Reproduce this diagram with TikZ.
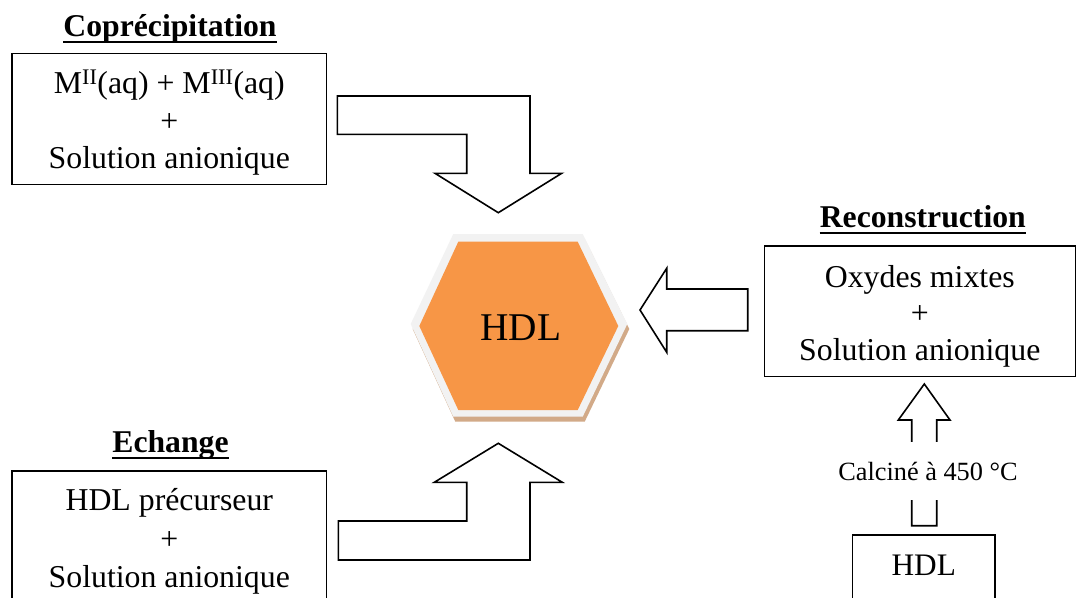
\documentclass[tikz,border=0pt]{standalone}
\usepackage{fontspec}
\setmainfont{Liberation Serif}
\definecolor{hexorange}{HTML}{F79646}
\definecolor{hexrim}{HTML}{F2F2F2}
\definecolor{hexshadow}{HTML}{D2AA88}
\begin{document}
\begin{tikzpicture}[x=1pt,y=-1pt,
  box/.style={draw, line width=1.6pt, inner sep=0pt},
  boxtext/.style={align=center, inner sep=0pt},
  blockarrow/.style={draw, fill=white, line width=1.6pt, line join=miter},
  titlenode/.style={font=\bfseries\fontsize{31.7}{36}\selectfont, inner sep=0pt, anchor=base},
  uline/.style={line width=1.8pt}]
\useasboundingbox (0,0) rectangle (1076,597);
\fill[white] (0,0) rectangle (1076,597);

% Hexagon
\fill[hexshadow] (412.7,329) -- (455.3,239) -- (584.7,239) -- (629.3,329) -- (584.7,421.7) -- (455.3,421.7) -- cycle;
\fill[hexrim] (410.7,324) -- (453.3,234) -- (582.7,234) -- (627.3,324) -- (582.7,416.7) -- (453.3,416.7) -- cycle;
\fill[hexorange] (419.3,326) -- (458.3,241.7) -- (577.7,241.7) -- (618.3,326) -- (577.7,410) -- (458.3,410) -- cycle;
\node[font=\fontsize{39.3}{44}\selectfont, inner sep=0pt] (hdl) at (521,328) {HDL};

% Boxes
\node[box, minimum width=314.7pt, minimum height=131pt] (copbox) at (169.3,118.8) {};
\node[boxtext, font=\fontsize{31.8}{37.5}\selectfont] (coptext) at ([yshift=-4pt]copbox.center)
  {M\textsuperscript{II}(aq) + M\textsuperscript{III}(aq)\\+\\Solution anionique};
\node[box, minimum width=311pt, minimum height=130.7pt] (recbox) at (919.8,311.3) {};
\node[boxtext, font=\fontsize{31.8}{36.5}\selectfont] (rectext) at ([yshift=-5pt]recbox.center)
  {Oxydes mixtes\\+\\Solution anionique};
\node[box, minimum width=314.7pt, minimum height=134pt] (echbox) at (169.3,538) {};
\node[boxtext, font=\fontsize{31.8}{38.5}\selectfont] (echtext) at ([yshift=-3.5pt]echbox.center)
  {HDL précurseur\\+\\Solution anionique};
\node[box, minimum width=142.3pt, minimum height=66pt] (hdlbox) at (923.8,568) {};
\node[boxtext, font=\fontsize{31.3}{36}\selectfont] (hdlboxtext) at (923.8,565) {HDL};

% Titles
\node[titlenode] (coptitle) at (170,36) {Coprécipitation};
\draw[uline] ([yshift=-5.7pt]coptitle.base west) -- ([yshift=-5.7pt]coptitle.base east);
\node[titlenode] (rectitle) at (922.8,227) {Reconstruction};
\draw[uline] ([yshift=-5.7pt]rectitle.base west) -- ([yshift=-5.7pt]rectitle.base east);
\node[titlenode] (echtitle) at (170.5,452.3) {Echange};
\draw[uline] ([yshift=-5.7pt]echtitle.base west) -- ([yshift=-5.7pt]echtitle.base east);

% Block arrows
\draw[blockarrow] (337.3,96) -- (530,96) -- (530,173.3) -- (561.7,173.3) -- (498.3,212.7)
  -- (435,173.3) -- (466.7,173.3) -- (466.7,134.3) -- (337.3,134.3) -- cycle;
\draw[blockarrow] (338.3,560) -- (530,560) -- (530,482.3) -- (562.3,482.3) -- (498.3,443.3)
  -- (434.3,482.3) -- (466.7,482.3) -- (466.7,521) -- (338.3,521) -- cycle;
\draw[blockarrow] (640,310) -- (666.7,268.3) -- (666.7,289) -- (747.7,289) -- (747.7,330.7)
  -- (666.7,330.7) -- (666.7,352.3) -- cycle;
\draw[blockarrow] (924.3,384) -- (950,420) -- (936.7,420) -- (936.7,525.7) -- (911.7,525.7)
  -- (911.7,420) -- (898.3,420) -- cycle;
\node[fill=white, inner xsep=2pt, inner ysep=0pt, minimum height=58pt, font=\fontsize{26.3}{30}\selectfont] (calc) at (928,471) {Calciné à 450 °C};
\end{tikzpicture}
\end{document}
